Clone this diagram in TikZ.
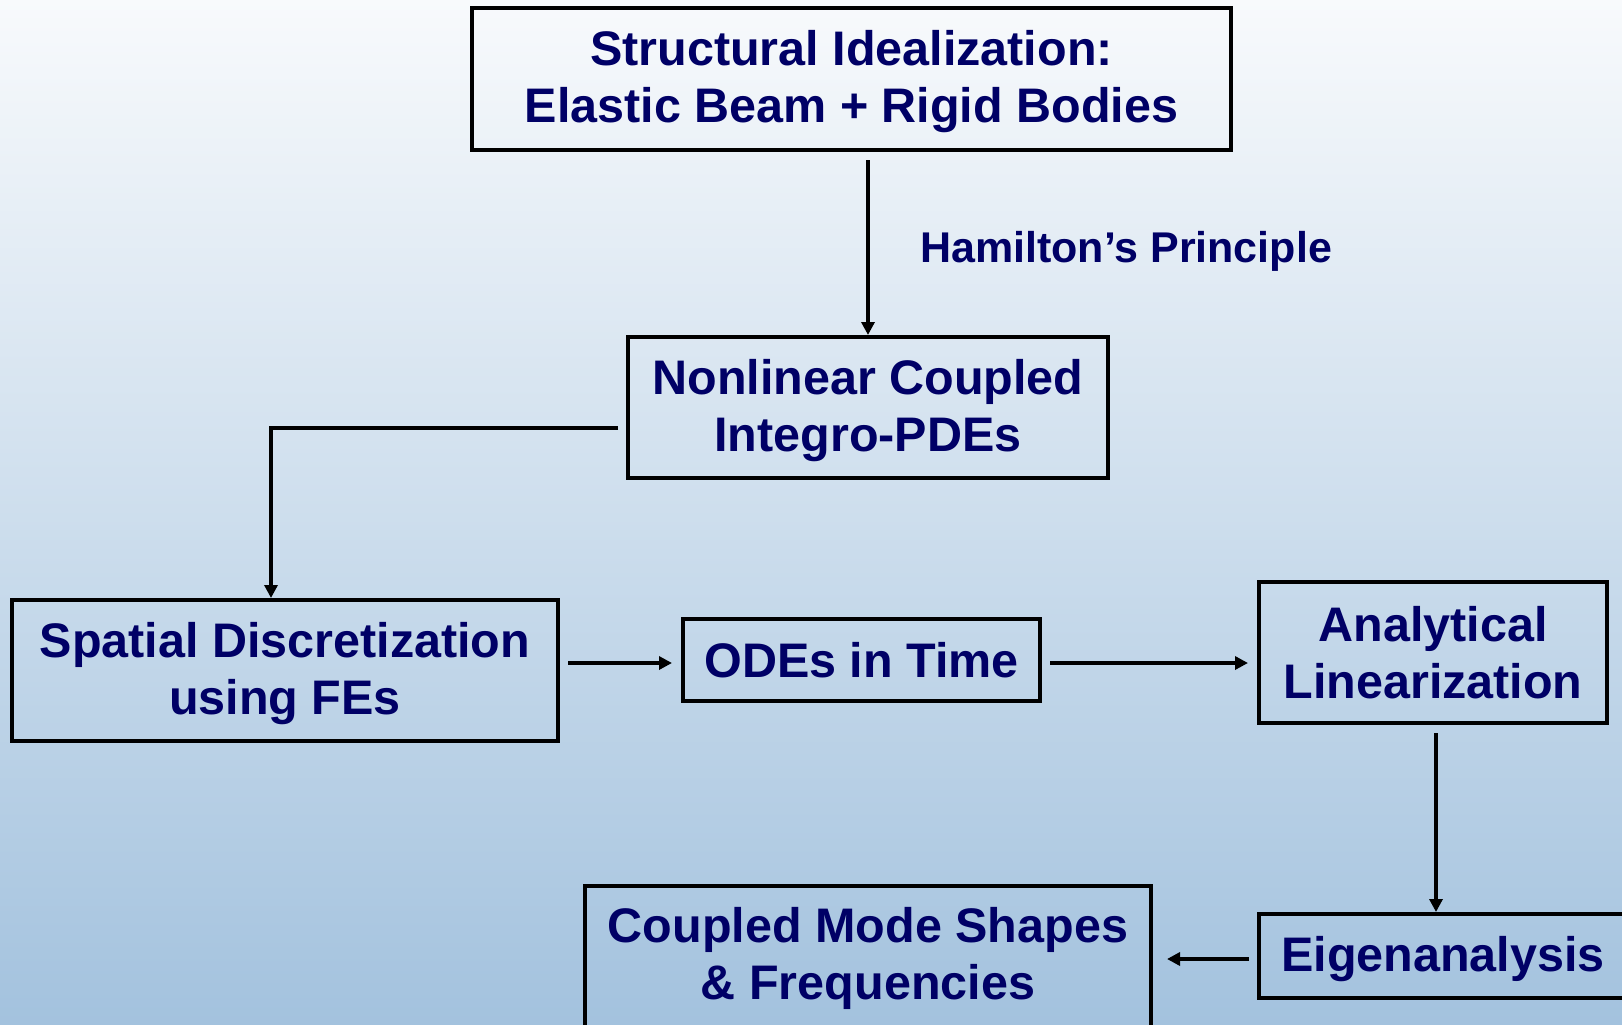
\documentclass[tikz,border=0pt]{standalone}
\usepackage{fontspec}
\setmainfont{Liberation Sans}
\usetikzlibrary{arrows.meta}
\definecolor{navy}{RGB}{0,0,102}
\definecolor{bgtop}{RGB}{248,250,252}
\definecolor{bgbot}{RGB}{163,194,222}
\newcommand{\lift}{\rule{0pt}{41pt}}
\tikzset{
  stepbox/.style={draw=black, line width=4pt, inner sep=0pt, align=center,
    text=navy, font=\fontsize{48.5}{57}\selectfont\bfseries},
  arr/.style={draw=black, line width=3.5pt, shorten <=8pt,
    -{Triangle[length=13pt,width=13pt]}},
  gap/.style={shorten >=9pt},
  lbl/.style={text=navy, font=\fontsize{43}{50}\selectfont\bfseries, inner sep=0pt}
}
\begin{document}
\begin{tikzpicture}[x=1pt,y=-1pt]
\useasboundingbox (0,0) rectangle (1622,1025);
\shade[top color=bgtop, bottom color=bgbot] (0,0) rectangle (1622,1025);

\node[stepbox, minimum width=759, minimum height=142] (s1) at (851.5,79)
  {\lift Structural Idealization:\\Elastic Beam + Rigid Bodies};
\node[stepbox, minimum width=480, minimum height=141] (s2) at (868,407.5)
  {\lift Nonlinear Coupled\\Integro-PDEs};
\node[stepbox, minimum width=546, minimum height=141] (s3) at (285,670.5)
  {\lift Spatial Discretization\\using FEs};
\node[stepbox, minimum width=357, minimum height=82] (s4) at (861.5,660)
  {ODEs in Time};
\node[stepbox, minimum width=348, minimum height=141] (s5) at (1433,652.5)
  {Analytical\\Linearization};
\node[stepbox, minimum width=368, minimum height=84] (s6) at (1443,956)
  {\rule{0pt}{41.5pt}Eigenanalysis};
\node[stepbox, minimum width=566, minimum height=144] (s7) at (868,958)
  {Coupled Mode Shapes\\\& Frequencies};

\node[lbl, anchor=base west] (ham) at (920,262) {Hamilton’s Principle};

\draw[arr] (s1.south -| s2.north) -- (s2.north);
\coordinate (bend) at ([xshift=-14pt]s3.north |- 0,428);
\draw[arr] (s2.west |- 0,428) -- (bend) -- ([xshift=-14pt]s3.north);
\draw[arr, gap] (s3.east |- 0,663) -- (s4.west |- 0,663);
\draw[arr, gap] (s4.east |- 0,663) -- (s5.west |- 0,663);
\draw[arr] (s5.south -| 1436,0) -- (s6.north -| 1436,0);
\draw[arr, shorten >=14pt] (s6.west |- 0,959) -- (s7.east |- 0,959);
\end{tikzpicture}
\end{document}
